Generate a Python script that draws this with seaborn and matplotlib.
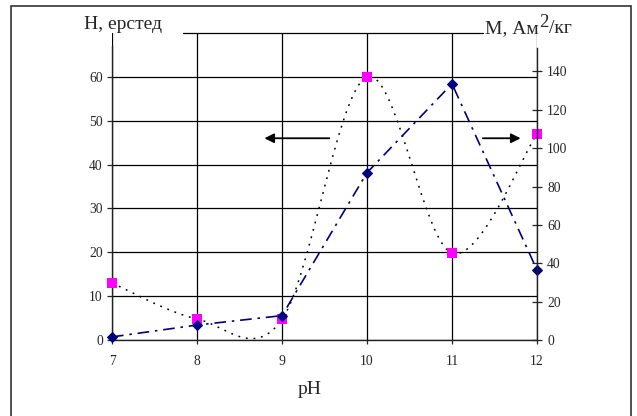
import numpy as np
import pandas as pd
import matplotlib
matplotlib.use('Agg')
import matplotlib.pyplot as plt
import seaborn as sns
from matplotlib.patches import Rectangle
from matplotlib.transforms import IdentityTransform

# data
ph = [7, 8, 9, 10, 11, 12]
h_oersted = [13.0, 4.8, 4.7, 60.0, 19.8, 47.0]     # left axis, magenta squares
m_moment = [1.6, 7.8, 12.7, 87.2, 133.5, 36.5]     # right axis, navy diamonds
x_ticks = [7, 8, 9, 10, 11, 12]
h_ticks = [0, 10, 20, 30, 40, 50, 60]
m_ticks = [0, 20, 40, 60, 80, 100, 120, 140]

sns.set_style('white')
plt.rcParams['font.family'] = ['Liberation Serif', 'DejaVu Serif']


def smooth(xs, ys, n=40):
    # excel-like smoothed line (catmull-rom through the points)
    p = np.column_stack([xs, ys]).astype(float)
    p = np.vstack([p[0], p, p[-1]])
    out = []
    for i in range(1, len(p) - 2):
        a, b = p[i], p[i + 1]
        c1 = a + (p[i + 1] - p[i - 1]) / 6
        c2 = b - (p[i + 2] - p[i]) / 6
        t = np.linspace(0, 1, n)[:, None]
        seg = (1-t)**3*a + 3*(1-t)**2*t*c1 + 3*(1-t)*t**2*c2 + t**3*b
        out.append(seg if i == 1 else seg[1:])
    out = np.vstack(out)
    return out[:, 0], out[:, 1]


fig = plt.figure(figsize=(6.37, 4.16), dpi=100)
ax = fig.add_axes([112/637, 1-340/416, 425/637, 307/416])
ax2 = ax.twinx()

# H curve (left axis)
sx, sy = smooth(ph, h_oersted)
curve = pd.DataFrame({'pH': sx, 'H': sy})
ax.plot(curve['pH'], curve['H'], color='black', lw=1.1, linestyle=(0, (1.2, 3.8)), zorder=3)
sns.scatterplot(x=ph, y=h_oersted, ax=ax, marker='s', s=42, color='#ff00ff',
                edgecolor='#ff00ff', linewidth=0, zorder=4, clip_on=False)

# M curve (right axis)
sns.lineplot(x=ph, y=m_moment, ax=ax2, color='#000080', lw=1.2, marker='D', markersize=5.5,
             markeredgecolor='#000080', dashes=False, clip_on=False)
ax2.lines[0].set_linestyle((0, (7, 3.5, 1.5, 3.5)))

ax.set_xlim(7, 12)
ax.set_ylim(0, 70)
ax2.set_ylim(0, 160)
ax.set_xticks(x_ticks)
ax.set_yticks(h_ticks)
ax2.set_yticks(m_ticks)

ax.grid(True, color='black', lw=0.9)
ax.set_axisbelow(True)
ax.axhline(70, xmin=(183-112)/425, xmax=(483-112)/425, color='black', lw=0.9, clip_on=False)

for a in (ax, ax2):
    a.spines['top'].set_visible(False)
    a.set_xlabel('')
    a.set_ylabel('')
ax.spines['right'].set_visible(False)
ax2.spines['left'].set_visible(False)
ax2.spines['bottom'].set_visible(False)
ax.spines['left'].set_bounds(0, 67)
ax2.spines['right'].set_bounds(0, 152)
for sp in [ax.spines['left'], ax.spines['bottom'], ax2.spines['right']]:
    sp.set_color('#222222')
    sp.set_linewidth(1.0)

ax.tick_params(axis='y', direction='out', length=3.6, width=0.9, pad=3, labelsize=9.8, left=True)
ax.tick_params(axis='x', direction='out', length=3, width=0.9, pad=8, labelsize=9.8, bottom=True)
ax2.tick_params(axis='y', direction='inout', length=6.5, width=0.9, pad=4, labelsize=9.8, right=True)

# arrows pointing at the axis of each curve
ax.annotate('', xy=(8.76, 46), xytext=(9.59, 46),
            arrowprops=dict(arrowstyle='-|>', color='black', lw=1.3, mutation_scale=14))
ax.annotate('', xy=(11.84, 46), xytext=(11.33, 46),
            arrowprops=dict(arrowstyle='-|>', color='black', lw=1.3, mutation_scale=14))

fig.text(84/637, 1-29/416, 'H, ерстед', fontsize=14, va='baseline', ha='left')
fig.text(298/637, 1-394/416, 'pH', fontsize=14, va='baseline', ha='left')

# right label with a big raised "2"
t1 = fig.text(485/637, 1-33/416, 'M, Ам', fontsize=14, va='baseline', ha='left')
fig.canvas.draw()
bb = t1.get_window_extent()
t2 = fig.text(bb.x1 + 1, 416 - 27, '2', fontsize=13.5, va='baseline', ha='left',
              transform=IdentityTransform())
fig.canvas.draw()
bb2 = t2.get_window_extent()
fig.text(bb2.x1, 416 - 33, '/кг', fontsize=14, va='baseline', ha='left',
         transform=IdentityTransform())

fig.patches.append(Rectangle((11/637, -0.01), 620/637, 1.01-6/416, transform=fig.transFigure,
                             fill=False, edgecolor='#333333', lw=1.2, zorder=10))

fig.savefig('out.png', dpi=100)
